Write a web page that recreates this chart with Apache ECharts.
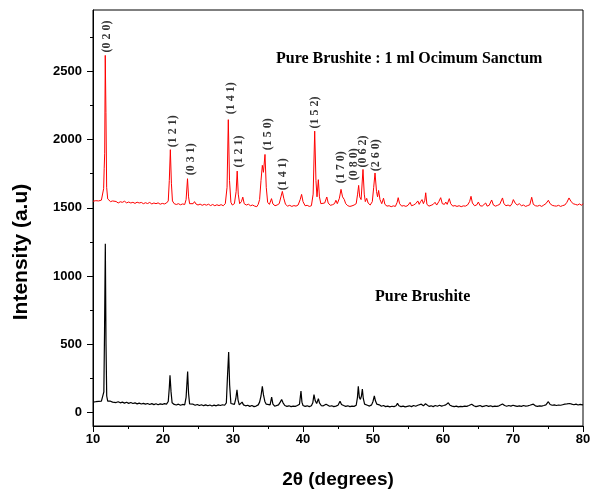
<!DOCTYPE html>
<html>
<head>
<meta charset="utf-8">
<script src="https://cdn.jsdelivr.net/npm/echarts@6/dist/echarts.min.js"></script>
<style>html,body{margin:0;padding:0;background:#fff}#c{width:590px;height:489px}</style>
</head>
<body>
<div id="c"></div>
<script>
// 2θ (deg), intensity (a.u.) – Pure Brushite : 1 ml Ocimum Sanctum (red)
var brushiteOcimum = [[10.0,1548],[10.2,1540],[10.4,1552],[10.6,1545],[10.8,1550],[11.0,1547],[11.2,1556],[11.4,1570],[11.52,1640],[11.6,1790],[11.67,1900],[11.75,2617],[11.85,2200],[11.95,1650],[12.1,1565],[12.3,1552],[12.5,1545],[12.8,1550],[13.0,1538],[13.3,1546],[13.6,1535],[13.9,1544],[14.2,1540],[14.5,1548],[14.8,1536],[15.1,1542],[15.4,1535],[15.7,1540],[16.0,1532],[16.3,1541],[16.6,1535],[16.9,1539],[17.2,1530],[17.5,1537],[17.8,1531],[18.1,1539],[18.4,1528],[18.7,1535],[19.0,1530],[19.3,1536],[19.6,1526],[19.9,1532],[20.2,1528],[20.5,1535],[20.75,1550],[20.9,1700],[21.05,1926],[21.2,1680],[21.35,1550],[21.6,1530],[21.9,1524],[22.2,1530],[22.5,1522],[22.8,1528],[23.1,1524],[23.3,1560],[23.5,1713],[23.65,1580],[23.8,1530],[24.0,1522],[24.3,1530],[24.5,1545],[24.7,1528],[25.0,1520],[25.3,1527],[25.6,1518],[25.9,1525],[26.2,1519],[26.5,1526],[26.8,1516],[27.1,1524],[27.4,1515],[27.7,1522],[28.0,1516],[28.3,1523],[28.6,1515],[28.9,1530],[29.15,1650],[29.33,2146],[29.5,1700],[29.7,1540],[29.9,1520],[30.2,1530],[30.45,1620],[30.6,1769],[30.75,1600],[30.95,1530],[31.2,1545],[31.4,1578],[31.6,1530],[31.9,1520],[32.2,1526],[32.5,1515],[32.8,1520],[33.1,1512],[33.4,1508],[33.6,1525],[33.8,1560],[34.0,1700],[34.19,1811],[34.35,1760],[34.57,1891],[34.75,1650],[34.95,1540],[35.2,1525],[35.5,1567],[35.7,1528],[36.0,1515],[36.3,1520],[36.6,1530],[36.85,1580],[37.05,1620],[37.25,1570],[37.5,1525],[37.8,1512],[38.1,1518],[38.4,1510],[38.7,1516],[39.0,1512],[39.3,1520],[39.6,1560],[39.8,1598],[40.0,1545],[40.3,1515],[40.6,1518],[40.9,1510],[41.2,1515],[41.45,1600],[41.67,2062],[41.85,1700],[42.0,1580],[42.19,1706],[42.35,1580],[42.55,1530],[42.8,1520],[43.1,1535],[43.4,1579],[43.6,1535],[43.9,1518],[44.2,1522],[44.5,1530],[44.7,1555],[44.9,1530],[45.2,1570],[45.43,1635],[45.65,1580],[45.9,1560],[46.1,1530],[46.4,1515],[46.7,1510],[47.0,1514],[47.3,1520],[47.6,1530],[47.8,1600],[47.95,1664],[48.1,1580],[48.3,1560],[48.57,1781],[48.75,1600],[48.9,1545],[49.1,1569],[49.3,1535],[49.6,1520],[49.9,1545],[50.1,1650],[50.29,1755],[50.5,1620],[50.65,1580],[50.8,1627],[51.0,1560],[51.25,1530],[51.5,1570],[51.7,1525],[52.0,1512],[52.3,1515],[52.6,1508],[52.9,1514],[53.2,1510],[53.45,1540],[53.6,1574],[53.8,1530],[54.1,1512],[54.4,1516],[54.7,1510],[55.0,1518],[55.3,1540],[55.5,1515],[55.8,1520],[56.1,1530],[56.4,1550],[56.6,1525],[56.8,1545],[57.0,1560],[57.2,1530],[57.4,1555],[57.53,1610],[57.7,1525],[58.0,1512],[58.3,1518],[58.6,1525],[58.86,1540],[59.1,1520],[59.4,1545],[59.67,1574],[59.9,1530],[60.2,1525],[60.4,1542],[60.6,1525],[60.9,1567],[61.1,1530],[61.4,1512],[61.7,1516],[62.0,1510],[62.3,1515],[62.6,1508],[62.9,1514],[63.2,1512],[63.5,1520],[63.8,1545],[64.0,1584],[64.2,1535],[64.5,1515],[64.8,1520],[65.05,1542],[65.3,1515],[65.6,1512],[65.85,1520],[66.1,1535],[66.3,1512],[66.6,1518],[66.95,1557],[67.2,1520],[67.5,1512],[67.8,1518],[68.1,1525],[68.3,1535],[68.5,1572],[68.7,1530],[69.0,1515],[69.3,1520],[69.6,1512],[69.85,1530],[70.05,1560],[70.3,1535],[70.6,1520],[70.9,1530],[71.2,1515],[71.5,1520],[71.8,1510],[72.1,1516],[72.4,1522],[72.67,1577],[72.9,1525],[73.2,1515],[73.5,1512],[73.8,1518],[74.1,1510],[74.4,1520],[74.7,1530],[75.05,1555],[75.3,1530],[75.6,1518],[75.9,1514],[76.2,1512],[76.5,1518],[76.8,1510],[77.1,1516],[77.4,1520],[77.7,1540],[78.0,1572],[78.3,1545],[78.6,1530],[78.9,1525],[79.2,1520],[79.5,1528],[79.8,1518],[80.0,1530]];

// 2θ (deg), intensity (a.u.) – Pure Brushite (black)
var brushitePure = [[10.0,75],[10.2,68],[10.4,78],[10.6,72],[10.8,80],[11.0,74],[11.2,82],[11.4,85],[11.55,150],[11.65,600],[11.76,1237],[11.86,500],[11.96,120],[12.1,82],[12.3,78],[12.5,82],[12.8,75],[13.0,80],[13.3,72],[13.6,78],[13.9,70],[14.2,75],[14.5,68],[14.8,74],[15.1,66],[15.4,72],[15.7,65],[16.0,70],[16.3,62],[16.6,68],[16.9,61],[17.2,66],[17.5,60],[17.8,65],[18.1,58],[18.4,64],[18.7,57],[19.0,63],[19.3,56],[19.6,62],[19.9,58],[20.2,64],[20.5,60],[20.75,80],[20.9,180],[21.0,271],[21.15,150],[21.3,70],[21.6,58],[21.9,54],[22.2,60],[22.5,52],[22.8,58],[23.1,55],[23.3,110],[23.52,300],[23.65,140],[23.8,62],[24.0,55],[24.3,60],[24.6,52],[24.9,58],[25.2,50],[25.5,56],[25.8,49],[26.1,55],[26.4,48],[26.7,54],[27.0,47],[27.3,53],[27.6,48],[27.9,55],[28.2,50],[28.5,56],[28.8,52],[29.05,70],[29.2,250],[29.38,442],[29.52,200],[29.7,65],[29.9,52],[30.2,58],[30.4,100],[30.57,166],[30.72,90],[30.9,55],[31.1,62],[31.3,75],[31.5,55],[31.8,48],[32.1,52],[32.4,44],[32.7,50],[33.0,42],[33.3,46],[33.6,55],[33.8,75],[34.0,120],[34.19,191],[34.35,130],[34.55,80],[34.75,60],[35.0,48],[35.3,55],[35.52,112],[35.7,60],[35.95,45],[36.2,50],[36.5,55],[36.75,75],[36.95,95],[37.15,70],[37.4,50],[37.7,44],[38.0,48],[38.3,42],[38.6,46],[38.9,44],[39.2,50],[39.5,60],[39.71,156],[39.85,75],[40.0,50],[40.3,44],[40.6,48],[40.9,42],[41.2,48],[41.4,70],[41.57,130],[41.75,85],[41.95,65],[42.2,100],[42.35,70],[42.6,50],[42.9,48],[43.3,60],[43.5,52],[43.8,45],[44.1,48],[44.4,42],[44.7,46],[45.0,52],[45.29,81],[45.5,58],[45.8,50],[46.1,44],[46.4,48],[46.7,42],[47.0,46],[47.3,44],[47.6,52],[47.78,110],[47.9,191],[48.05,110],[48.2,95],[48.35,120],[48.48,171],[48.62,100],[48.8,60],[48.95,73],[49.2,52],[49.5,46],[49.8,55],[50.0,80],[50.19,120],[50.35,85],[50.55,60],[50.7,73],[50.9,55],[51.2,45],[51.5,50],[51.8,42],[52.1,46],[52.4,40],[52.7,45],[53.0,42],[53.3,48],[53.5,66],[53.7,48],[54.0,42],[54.3,46],[54.6,40],[54.9,44],[55.2,48],[55.5,42],[55.8,50],[56.1,45],[56.4,52],[56.6,46],[56.9,60],[57.2,48],[57.5,63],[57.7,50],[58.0,44],[58.3,48],[58.6,42],[58.9,50],[59.2,45],[59.5,52],[59.8,46],[60.1,50],[60.4,55],[60.76,70],[61.0,52],[61.3,46],[61.6,42],[61.9,46],[62.2,40],[62.5,44],[62.8,42],[63.1,46],[63.4,44],[63.7,50],[64.1,59],[64.4,48],[64.7,42],[65.0,46],[65.3,50],[65.6,42],[65.9,46],[66.2,50],[66.5,44],[66.8,48],[67.1,42],[67.4,46],[67.7,44],[68.0,48],[68.5,62],[68.8,50],[69.1,45],[69.4,50],[69.7,46],[70.0,52],[70.3,48],[70.6,44],[70.9,48],[71.2,44],[71.5,50],[71.8,46],[72.1,48],[72.4,52],[72.9,60],[73.2,48],[73.5,44],[73.8,48],[74.1,46],[74.4,50],[74.7,55],[75.05,78],[75.3,58],[75.6,52],[75.9,55],[76.2,50],[76.5,54],[76.8,52],[77.1,56],[77.4,60],[77.7,62],[78.1,65],[78.4,60],[78.7,56],[79.0,60],[79.3,54],[79.6,58],[79.9,55],[80.0,58]];

// Miller-index labels: text, 2θ position, intensity at label foot
var hklText = ['(0 2 0)','(1 2 1)','(0 3 1)','(1 4 1)','(1 2 1)','(1 5 0)','(1 4 1)','(1 5 2)','(1 7 0)','(0 8 0)','(0 6 2)','(2 6 0)'];
var hklX    = [11.93, 21.43, 23.96, 29.67, 30.86, 35.04, 37.19, 41.71, 45.43, 47.33, 48.61, 50.39];
var hklY    = [2639, 1943, 1738, 2185, 1796, 1921, 1628, 2082, 1679, 1701, 1796, 1767];

var yTicks = [0, 500, 1000, 1500, 2000, 2500];
var yMinorTicks = [250, 750, 1250, 1750, 2250, 2750];

var hklData = hklText.map(function (t, i) { return { value: [hklX[i], hklY[i]], name: t }; });

var chart = echarts.init(document.getElementById('c'), null, { renderer: 'canvas' });
var axisFont = { color: '#000', fontFamily: 'Liberation Sans, Arial, sans-serif', fontWeight: 'bold', fontSize: 13 };
var serif = 'Liberation Serif, Times New Roman, serif';

chart.setOption({
  animation: false,
  backgroundColor: '#fff',
  grid: { left: 93, right: 7, top: 10, bottom: 63, show: true, borderColor: '#000', borderWidth: 1,
          containLabel: false, outerBoundsMode: 'none' },
  xAxis: {
    type: 'value', min: 10, max: 80, interval: 10,
    axisLine: { show: true, onZero: false, lineStyle: { color: '#000', width: 1 } },
    axisTick: { show: true, inside: false, length: 6, lineStyle: { color: '#000', width: 1 } },
    minorTick: { show: true, splitNumber: 2, length: 3, lineStyle: { color: '#000', width: 1 } },
    splitLine: { show: false },
    axisLabel: Object.assign({ margin: 7 }, axisFont),
    name: '2θ (degrees)', nameLocation: 'middle', nameGap: 44,
    nameTextStyle: { color: '#000', fontFamily: 'Liberation Sans, Arial, sans-serif', fontWeight: 'bold', fontSize: 19 }
  },
  yAxis: [{
    type: 'value', min: -100, max: 2950,
    axisLine: { show: true, onZero: false, lineStyle: { color: '#000', width: 1 } },
    axisTick: { show: true, inside: false, length: 6, customValues: yTicks, lineStyle: { color: '#000', width: 1 } },
    splitLine: { show: false },
    axisLabel: Object.assign({ margin: 11, customValues: yTicks, formatter: function (v) { return String(v); } }, axisFont)
  }, {
    type: 'value', min: -100, max: 2950, position: 'left',
    axisLine: { show: false },
    axisTick: { show: true, inside: false, length: 3, customValues: yMinorTicks, lineStyle: { color: '#000', width: 1 } },
    splitLine: { show: false },
    axisLabel: { show: false }
  }],
  graphic: [
    { type: 'text', left: 276, top: 51, style: { text: 'Pure Brushite : 1 ml Ocimum Sanctum', fill: '#000', font: 'bold 16px ' + serif } },
    { type: 'text', left: 375, top: 289, style: { text: 'Pure Brushite', fill: '#000', font: 'bold 16px ' + serif } },
    { type: 'text', x: 21, y: 252, rotation: Math.PI / 2,
      style: { text: 'Intensity (a.u)', fill: '#000', font: 'bold 21px Liberation Sans, Arial, sans-serif', align: 'center', verticalAlign: 'middle' } }
  ],
  series: [
    { type: 'line', name: 'Pure Brushite : 1 ml Ocimum Sanctum', data: brushiteOcimum, showSymbol: false, symbol: 'none',
      lineStyle: { color: '#ff0000', width: 1 }, itemStyle: { color: '#ff0000' }, z: 3 },
    { type: 'line', name: 'Pure Brushite', data: brushitePure, showSymbol: false, symbol: 'none',
      lineStyle: { color: '#000', width: 1.2 }, itemStyle: { color: '#000' }, z: 3 },
    { type: 'scatter', name: 'hkl', data: hklData, symbolSize: 0, silent: true, z: 4,
      label: { show: true, position: [0, 0], rotate: 90, align: 'left', verticalAlign: 'middle',
        formatter: function (p) { return p.name; },
        color: '#000', fontFamily: serif, fontWeight: 'bold', fontSize: 12 } }
  ]
});
</script>
</body>
</html>
